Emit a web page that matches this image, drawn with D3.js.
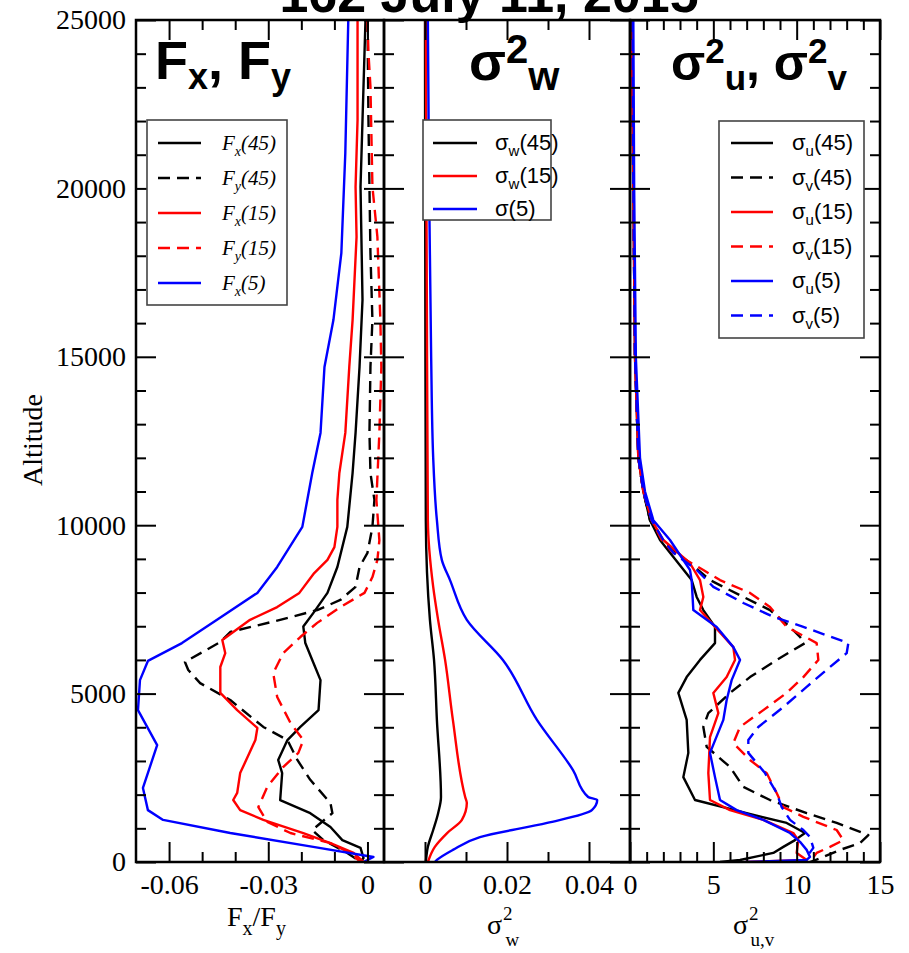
<!DOCTYPE html>
<html>
<head>
<meta charset="utf-8">
<script src="https://cdn.jsdelivr.net/npm/d3@7"></script>
<style>
  body { margin: 0; background: #fff; }
</style>
</head>
<body>
<div id="chart"></div>
<script>
// ---------- data : [altitude, value] ----------
// panel 1 : momentum fluxes
const fx45 = [[25000,-0.0006],[22030,-0.0015],[20050,-0.0021],[16690,-0.0015],[14700,-0.0024],[12740,-0.0036],[11550,-0.0045],[9950,-0.0061],[8760,-0.0091],[7990,-0.0121],[7390,-0.0164],[6990,-0.0194],[6500,-0.0188],[6000,-0.0167],[5400,-0.0142],[4510,-0.0148],[4010,-0.0203],[3620,-0.0242],[3030,-0.0270],[2640,-0.0258],[1840,-0.0264],[1450,-0.0173],[1040,-0.0112],[650,-0.0076],[420,-0.0021],[120,-0.0012],[0,-0.0021]];
const fy45 = [[25000,0.0000],[22030,0.0003],[18080,0.0009],[16090,0.0015],[14700,0.0009],[12740,0.0006],[11550,0.0009],[10750,0.0021],[9950,0.0015],[9180,0.0000],[8760,-0.0024],[8170,-0.0036],[7780,-0.0082],[7480,-0.0152],[7190,-0.0264],[6830,-0.0415],[6530,-0.0445],[5940,-0.0552],[5700,-0.0542],[5310,-0.0506],[4810,-0.0415],[4010,-0.0315],[3620,-0.0242],[3030,-0.0212],[2440,-0.0173],[1750,-0.0112],[1450,-0.0106],[950,-0.0167],[650,-0.0133],[270,-0.0061],[0,-0.0021]];
const fx15 = [[25000,-0.0030],[22030,-0.0030],[20050,-0.0036],[18560,-0.0033],[16090,-0.0045],[14700,-0.0055],[12740,-0.0067],[11550,-0.0085],[10750,-0.0091],[9950,-0.0091],[9350,-0.0100],[8970,-0.0121],[8580,-0.0161],[7990,-0.0206],[7570,-0.0273],[7190,-0.0355],[6590,-0.0439],[6200,-0.0430],[5790,-0.0445],[5020,-0.0445],[4510,-0.0394],[3980,-0.0333],[3620,-0.0339],[2640,-0.0385],[2050,-0.0394],[1840,-0.0406],[1540,-0.0385],[1250,-0.0315],[860,-0.0194],[560,-0.0112],[270,-0.0042],[0,-0.0012]];
const fy15 = [[25000,0.0000],[24020,0.0003],[23020,0.0009],[20050,0.0015],[18560,0.0030],[16090,0.0039],[14700,0.0042],[12740,0.0036],[10750,0.0027],[9550,0.0036],[8970,0.0030],[8460,0.0015],[7990,-0.0009],[7570,-0.0082],[7100,-0.0152],[6680,-0.0203],[6200,-0.0255],[5610,-0.0285],[4900,-0.0273],[4130,-0.0233],[3620,-0.0194],[3240,-0.0209],[2820,-0.0255],[2230,-0.0303],[1630,-0.0330],[1190,-0.0303],[860,-0.0233],[560,-0.0112],[270,-0.0052],[0,-0.0021]];
const fx5 = [[25000,-0.0058],[21050,-0.0067],[18080,-0.0079],[16090,-0.0103],[14700,-0.0130],[12740,-0.0142],[11550,-0.0167],[9950,-0.0197],[8760,-0.0273],[7990,-0.0333],[7190,-0.0455],[6500,-0.0561],[5970,-0.0664],[5400,-0.0688],[4510,-0.0694],[3470,-0.0636],[2200,-0.0679],[1540,-0.0664],[1250,-0.0618],[860,-0.0415],[450,-0.0164],[150,0.0018],[0,-0.0012]];

// panel 2 : vertical velocity variance
const sw45 = [[25000,0.0000],[15000,0.0001],[10150,0.0002],[7190,0.0012],[6000,0.0022],[4220,0.0029],[1930,0.0039],[1450,0.0032],[950,0.0020],[450,0.0007],[0,0.0002]];
const sw15 = [[25000,0.0002],[15000,0.0005],[10150,0.0007],[8170,0.0020],[7190,0.0032],[6000,0.0049],[4220,0.0068],[1930,0.0098],[1750,0.0102],[1250,0.0090],[860,0.0054],[450,0.0024],[0,0.0007]];
const sw5 = [[25000,0.0007],[20000,0.0010],[15000,0.0015],[12000,0.0020],[10150,0.0029],[8970,0.0041],[8370,0.0061],[7190,0.0102],[6000,0.0190],[4220,0.0273],[2730,0.0361],[1930,0.0398],[1840,0.0420],[1540,0.0407],[1160,0.0298],[740,0.0134],[360,0.0068],[60,0.0029],[0,0.0024]];

// panel 3 : horizontal velocity variances
const su45 = [[25000,0.1],[20000,0.2],[15000,0.3],[12000,0.5],[11000,0.8],[10150,1.2],[9560,1.8],[9180,2.4],[8370,3.7],[7870,4.0],[7480,4.4],[6980,5.1],[6500,5.1],[6000,4.2],[5490,3.4],[5020,2.9],[4220,3.4],[3240,3.5],[2520,3.2],[1840,3.9],[1450,7.0],[1160,9.4],[860,10.5],[650,9.9],[450,9.2],[270,8.6],[60,6.6],[0,5.4]];
const sv45 = [[25000,0.1],[20000,0.2],[15000,0.3],[12000,0.5],[11000,0.8],[10150,1.2],[9560,1.9],[8870,3.6],[8370,4.8],[7870,6.8],[7480,8.4],[6980,9.6],[6680,10.2],[6500,10.5],[6000,8.8],[5490,7.2],[5020,6.0],[4420,4.7],[4010,4.4],[3420,4.6],[2820,6.0],[2230,6.8],[1840,8.4],[1450,10.6],[1160,12.4],[800,14.3],[560,13.8],[360,12.6],[150,11.6],[0,10.8]];
const su15 = [[25000,0.1],[20000,0.2],[15000,0.3],[12000,0.5],[11000,0.8],[10150,1.3],[9560,2.0],[8870,3.6],[8370,4.2],[7870,4.4],[7480,4.2],[6980,5.1],[6380,6.2],[6000,6.3],[5490,5.8],[5020,5.0],[4420,5.3],[3710,4.8],[2640,4.7],[1840,4.8],[1540,6.0],[1250,8.0],[860,9.8],[650,10.1],[270,10.0],[60,10.6],[0,6.9]];
const sv15 = [[25000,0.1],[20000,0.2],[15000,0.3],[12000,0.5],[11000,0.8],[10150,1.3],[9560,1.9],[9180,2.6],[8670,4.4],[8370,5.4],[7990,7.2],[7570,8.4],[6980,9.4],[6500,11.2],[6000,11.3],[5490,10.4],[5020,9.4],[4510,8.0],[4010,6.6],[3530,6.2],[3030,7.2],[2640,8.2],[2050,8.8],[1630,9.2],[1340,10.4],[950,12.4],[650,12.8],[450,12.0],[270,11.2],[0,10.8]];
const su5 = [[25000,0.2],[20000,0.25],[15000,0.35],[12000,0.6],[11000,0.9],[10150,1.4],[9560,2.4],[8670,3.6],[8370,3.7],[7480,3.8],[6980,5.2],[6380,6.2],[6000,6.6],[5400,6.1],[4810,5.8],[4220,5.6],[3240,4.8],[2520,5.1],[1840,5.4],[1540,6.4],[1250,8.0],[860,9.6],[600,10.2],[360,10.6],[150,10.8],[60,10.6],[0,6.9]];
const sv5 = [[25000,0.15],[20000,0.2],[15000,0.3],[12000,0.5],[11000,0.8],[10150,1.3],[9560,2.0],[9180,2.6],[8670,4.0],[8170,5.0],[7690,6.8],[7280,8.6],[6980,10.4],[6500,13.1],[6200,13.0],[5790,12.0],[5200,10.6],[4600,9.2],[4010,7.7],[3620,7.1],[3240,7.1],[2640,8.1],[2050,8.8],[1630,9.1],[1250,9.6],[950,10.4],[740,10.8],[420,11.0],[150,10.6],[0,10.5]];

// ---------- ticks ----------
const altMajor = [0, 5000, 10000, 15000, 20000, 25000];
const altLabels = ["0", "5000", "10000", "15000", "20000", "25000"];
const altMinor = d3.range(1000, 25000, 1000).filter(v => v % 5000 !== 0);

const p1Major = [-0.06, -0.03, 0];
const p1Labels = ["-0.06", "-0.03", "0"];
const p1Minor = [-0.05, -0.04, -0.02, -0.01];
const p2Major = [0, 0.02, 0.04];
const p2Labels = ["0", "0.02", "0.04"];
const p2Minor = [0.01, 0.03];
const p3Major = [0, 5, 10, 15];
const p3Labels = ["0", "5", "10", "15"];
const p3Minor = d3.range(1, 15).filter(v => v % 5 !== 0);

// ---------- layout ----------
const W = 909, H = 953;
const plotTop = 20, plotBottom = 862;
const RED = "#ff0000", BLUE = "#0000ff", BLACK = "#000000";
const DASH = "12,7";
const serif = "'Liberation Serif', 'Times New Roman', serif";
const sans = "'Liberation Sans', Arial, sans-serif";

const svg = d3.select("#chart").append("svg")
    .attr("width", W)
    .attr("height", H)
    .style("font-family", serif);

const y = d3.scaleLinear().domain([0, 25000]).range([plotBottom, plotTop]);

// text with sub / superscripts
function rich(sel, parts, size, small, subDy, supDy) {
    let cur = 0;
    parts.forEach(p => {
        const [t, kind, dx] = p;
        if (!t) return;
        const target = kind === "sub" ? subDy : kind === "sup" ? -supDy : 0;
        sel.append("tspan")
            .attr("dy", target - cur)
            .attr("dx", dx || 0)
            .attr("font-size", kind ? small : size)
            .text(t);
        cur = target;
    });
    return sel;
}

const panels = [
    {
        range: [136, 384], domain: [-0.07, 0.005],
        major: p1Major, labels: p1Labels, minor: p1Minor,
        series: [
            { data: fx45, color: BLACK, dash: null },
            { data: fy45, color: BLACK, dash: DASH },
            { data: fx15, color: RED, dash: null },
            { data: fy15, color: RED, dash: DASH },
            { data: fx5, color: BLUE, dash: null }
        ]
    },
    {
        range: [384, 630], domain: [-0.01, 0.05],
        major: p2Major, labels: p2Labels, minor: p2Minor, smooth: true,
        series: [
            { data: sw45, color: BLACK, dash: null },
            { data: sw15, color: RED, dash: null },
            { data: sw5, color: BLUE, dash: null }
        ]
    },
    {
        range: [630, 880], domain: [0, 15],
        major: p3Major, labels: p3Labels, minor: p3Minor,
        series: [
            { data: su45, color: BLACK, dash: null },
            { data: sv45, color: BLACK, dash: DASH },
            { data: su15, color: RED, dash: null },
            { data: sv15, color: RED, dash: DASH },
            { data: su5, color: BLUE, dash: null },
            { data: sv5, color: BLUE, dash: DASH }
        ]
    }
];

panels.forEach((p, pi) => {
    const x = d3.scaleLinear().domain(p.domain).range(p.range);
    const g = svg.append("g");

    g.append("clipPath").attr("id", "clip" + pi)
        .append("rect")
        .attr("x", p.range[0]).attr("y", plotTop)
        .attr("width", p.range[1] - p.range[0]).attr("height", plotBottom - plotTop);

    const line = d3.line()
        .x(d => x(d[1]))
        .y(d => y(d[0]))
        .curve(p.smooth ? d3.curveMonotoneY : d3.curveLinear);

    g.append("g").attr("clip-path", `url(#clip${pi})`)
        .selectAll("path")
        .data(p.series)
        .join("path")
        .attr("d", d => line(d.data))
        .attr("fill", "none")
        .attr("stroke", d => d.color)
        .attr("stroke-width", 2.4)
        .attr("stroke-linejoin", "round")
        .attr("stroke-dasharray", d => d.dash);

    // inward ticks, all four sides
    const addAxis = (gen, transform) => {
        const a = g.append("g").attr("transform", transform).call(gen);
        a.select(".domain").remove();
        a.selectAll(".tick line").attr("stroke", "#000").attr("stroke-width", 2);
        return a;
    };
    const xb = addAxis(d3.axisBottom(x).tickValues(p.major).tickSize(-20).tickPadding(12)
        .tickFormat((d, i) => p.labels[i]), `translate(0,${plotBottom})`);
    xb.selectAll("text").attr("font-size", 28).attr("fill", "#000").attr("font-family", serif);
    addAxis(d3.axisBottom(x).tickValues(p.minor).tickSize(-10).tickFormat(""), `translate(0,${plotBottom})`);
    addAxis(d3.axisTop(x).tickValues(p.major).tickSize(-20).tickFormat(""), `translate(0,${plotTop})`);
    addAxis(d3.axisTop(x).tickValues(p.minor).tickSize(-10).tickFormat(""), `translate(0,${plotTop})`);

    const yl = addAxis(d3.axisLeft(y).tickValues(altMajor).tickSize(-20).tickPadding(pi === 0 ? 10 : 0)
        .tickFormat((d, i) => pi === 0 ? altLabels[i] : ""), `translate(${p.range[0]},0)`);
    yl.selectAll("text").attr("font-size", 28).attr("fill", "#000").attr("font-family", serif);
    addAxis(d3.axisLeft(y).tickValues(altMinor).tickSize(-10).tickFormat(""), `translate(${p.range[0]},0)`);
    addAxis(d3.axisRight(y).tickValues(altMajor).tickSize(-20).tickFormat(""), `translate(${p.range[1]},0)`);
    addAxis(d3.axisRight(y).tickValues(altMinor).tickSize(-10).tickFormat(""), `translate(${p.range[1]},0)`);

    g.append("rect")
        .attr("x", p.range[0]).attr("y", plotTop)
        .attr("width", p.range[1] - p.range[0]).attr("height", plotBottom - plotTop)
        .attr("fill", "none").attr("stroke", "#000").attr("stroke-width", 2.5);
});

// ---------- title ----------
svg.append("text")
    .attr("x", 489).attr("y", 12)
    .attr("text-anchor", "middle")
    .attr("font-family", sans)
    .attr("font-weight", "bold").attr("font-size", 52)
    .text("162 July 11, 2015");

// panel headings
rich(svg.append("text").attr("x", 155).attr("y", 79).attr("font-family", sans).attr("font-weight", "bold"),
    [["F", ""], ["x", "sub"], [", F", ""], ["y", "sub"]], 54, 36, 10, 0);
rich(svg.append("text").attr("x", 469).attr("y", 80).attr("font-family", sans).attr("font-weight", "bold"),
    [["σ", ""], ["2", "sup"], ["w", "sub"]], 54, 40, 10, 17);
rich(svg.append("text").attr("x", 671).attr("y", 80).attr("font-family", sans).attr("font-weight", "bold"),
    [["σ", ""], ["2", "sup"], ["u", "sub"], [", σ", ""], ["2", "sup"], ["v", "sub"]], 50, 35, 10, 17);

// axis titles
svg.append("text")
    .attr("transform", "translate(42,440) rotate(-90)")
    .attr("text-anchor", "middle")
    .attr("font-size", 28)
    .text("Altitude");
rich(svg.append("text").attr("x", 227).attr("y", 926),
    [["F", ""], ["x", "sub"], ["/F", ""], ["y", "sub"]], 28, 20, 9, 0);
rich(svg.append("text").attr("x", 487).attr("y", 934),
    [["σ", ""], ["2", "sup", 1], ["w", "sub", -7]], 28, 19, 12, 14);
rich(svg.append("text").attr("x", 733).attr("y", 934),
    [["σ", ""], ["2", "sup", 1], ["u,v", "sub", -8]], 28, 19, 12, 14);

// ---------- legends ----------
const legend1Labels = [["F", "x", "(45)"], ["F", "y", "(45)"], ["F", "x", "(15)"], ["F", "y", "(15)"], ["F", "x", "(5)"]];
const legend2Labels = [["σ", "w", "(45)"], ["σ", "w", "(15)"], ["σ", "", "(5)"]];
const legend3Labels = [["σ", "u", "(45)"], ["σ", "v", "(45)"], ["σ", "u", "(15)"], ["σ", "v", "(15)"], ["σ", "u", "(5)"], ["σ", "v", "(5)"]];

function legend(box, items, labels, opts) {
    const lg = svg.append("g");
    lg.append("rect")
        .attr("x", box[0]).attr("y", box[1]).attr("width", box[2]).attr("height", box[3])
        .attr("fill", "#fff").attr("stroke", "#444").attr("stroke-width", 1.6);
    items.forEach((s, i) => {
        const yy = opts.y0 + i * opts.step;
        lg.append("line")
            .attr("x1", opts.lx[0]).attr("x2", opts.lx[1])
            .attr("y1", yy).attr("y2", yy)
            .attr("stroke", s.color).attr("stroke-width", 2.4)
            .attr("stroke-dasharray", s.dash);
        const [a, sub, b] = labels[i];
        const t = lg.append("text").attr("x", opts.tx).attr("y", yy + 7)
            .attr("font-family", opts.font)
            .attr("font-style", opts.italic ? "italic" : null);
        rich(t, [[a, ""], [sub, "sub"], [b, ""]], opts.size, opts.small, 6, 0);
    });
}

legend([147, 120, 140, 185], panels[0].series, legend1Labels,
    { y0: 143, step: 35, lx: [158, 201], tx: 222, size: 21, small: 14, italic: true, font: serif });
legend([423, 120, 128, 100], panels[1].series, legend2Labels,
    { y0: 143, step: 33, lx: [433, 477], tx: 495, size: 22, small: 15, font: sans });
legend([719, 121, 145, 217], panels[2].series, legend3Labels,
    { y0: 143, step: 34.5, lx: [731, 773], tx: 792, size: 22, small: 15, font: sans });
</script>
</body>
</html>
